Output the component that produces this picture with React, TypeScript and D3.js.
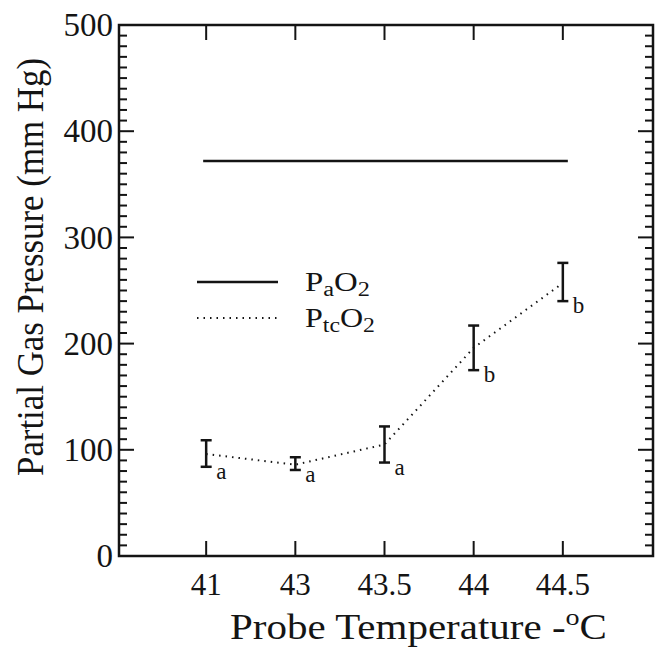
import React from "react";
import * as d3 from "d3";

const categories = ["41", "43", "43.5", "44", "44.5"];
const paO2Value = 372;
const ptcO2Mean = [96, 86, 105, 196, 257];
const ptcO2Low = [84, 81, 88, 175, 240];
const ptcO2High = [109, 93, 122, 217, 276];
const groupLetters = ["a", "a", "a", "b", "b"];
const yMajorTicks = [0, 100, 200, 300, 400, 500];

const W = 665;
const H = 647;
const left = 119, right = 653, top = 25, bottom = 556;
const ink = "#141414";
const fontStyle = {
  fontFamily: '"Liberation Serif", "Times New Roman", Tinos, Times, "Nimbus Roman", "Noto Serif", "DejaVu Serif", serif',
};

export default function App() {
  const x = d3.scalePoint<string>().domain(categories).range([left - 2, right - 1]).padding(1);
  const y = d3.scaleLinear().domain([0, 500]).range([bottom, top]);
  const minor = d3.range(0, 501, 10).filter((v) => v % 100 !== 0);
  const line = d3
    .line<number>()
    .x((_, i) => x(categories[i]) as number)
    .y((d) => y(d));

  return (
    <svg width={W} height={H} style={{ position: "absolute", left: 0, top: 0, background: "#fff" }}>
      <rect x={left} y={top} width={right - left} height={bottom - top} fill="none" stroke={ink} strokeWidth={2.5} />
      {minor.map((v) => (
        <g key={"m" + v}>
          <line x1={left} x2={left + 8} y1={y(v)} y2={y(v)} stroke={ink} strokeWidth={2} />
          <line x1={right} x2={right - 8} y1={y(v)} y2={y(v)} stroke={ink} strokeWidth={2} />
        </g>
      ))}
      {yMajorTicks.map((v) => (
        <g key={"M" + v}>
          <line x1={left} x2={left + 15} y1={y(v)} y2={y(v)} stroke={ink} strokeWidth={2} />
          <line x1={right} x2={right - 15} y1={y(v)} y2={y(v)} stroke={ink} strokeWidth={2} />
          <text x={left - 6} y={y(v)} dy="0.34em" textAnchor="end" fontSize={33} fill={ink} style={fontStyle}>
            {v}
          </text>
        </g>
      ))}
      {categories.map((c) => (
        <g key={"x" + c}>
          <line x1={x(c)} x2={x(c)} y1={bottom} y2={bottom - 15} stroke={ink} strokeWidth={2} />
          <line x1={x(c)} x2={x(c)} y1={top} y2={top + 15} stroke={ink} strokeWidth={2} />
          <text x={x(c)} y={595} textAnchor="middle" fontSize={31} fill={ink} style={fontStyle}>
            {c}
          </text>
        </g>
      ))}
      <text
        x={230}
        y={639}
        fontSize={35}
        fill={ink}
        style={fontStyle}
        textLength={377}
        lengthAdjust="spacingAndGlyphs"
      >
        Probe Temperature -<tspan fontSize={24} dy={-14}>o</tspan>
        <tspan dy={14}>C</tspan>
      </text>
      <text
        transform="translate(43, 267) rotate(-90)"
        textAnchor="middle"
        fontSize={37}
        fill={ink}
        style={fontStyle}
        textLength={418}
        lengthAdjust="spacingAndGlyphs"
      >
        Partial Gas Pressure (mm Hg)
      </text>
      <line
        x1={(x(categories[0]) as number) - 3}
        x2={(x(categories[categories.length - 1]) as number) + 5}
        y1={y(paO2Value)}
        y2={y(paO2Value)}
        stroke={ink}
        strokeWidth={2.5}
      />
      <path d={line(ptcO2Mean) || ""} fill="none" stroke={ink} strokeWidth={2} strokeDasharray="1.5 5" />
      {categories.map((c, i) => {
        const cx = x(c) as number;
        return (
          <g key={"e" + c}>
            <line x1={cx} x2={cx} y1={y(ptcO2Low[i])} y2={y(ptcO2High[i])} stroke={ink} strokeWidth={2.5} />
            <line x1={cx - 5.5} x2={cx + 5.5} y1={y(ptcO2Low[i])} y2={y(ptcO2Low[i])} stroke={ink} strokeWidth={2.5} />
            <line x1={cx - 5.5} x2={cx + 5.5} y1={y(ptcO2High[i])} y2={y(ptcO2High[i])} stroke={ink} strokeWidth={2.5} />
            <text x={cx + 10} y={y(ptcO2Low[i]) + 12} fontSize={23} fill={ink} style={fontStyle}>
              {groupLetters[i]}
            </text>
          </g>
        );
      })}
      <line x1={197} x2={278} y1={282} y2={282} stroke={ink} strokeWidth={2.5} />
      <line x1={197} x2={278} y1={318} y2={318} stroke={ink} strokeWidth={2} strokeDasharray="1.5 5" />
      <text x={305} y={291} fontSize={27} fill={ink} style={fontStyle} textLength={65} lengthAdjust="spacingAndGlyphs">
        P<tspan fontSize={20} dy={5}>a</tspan>
        <tspan dy={-5}>O</tspan>
        <tspan fontSize={20} dy={5}>2</tspan>
      </text>
      <text x={305} y={327} fontSize={27} fill={ink} style={fontStyle} textLength={70} lengthAdjust="spacingAndGlyphs">
        P<tspan fontSize={20} dy={5}>tc</tspan>
        <tspan dy={-5}>O</tspan>
        <tspan fontSize={20} dy={5}>2</tspan>
      </text>
    </svg>
  );
}
